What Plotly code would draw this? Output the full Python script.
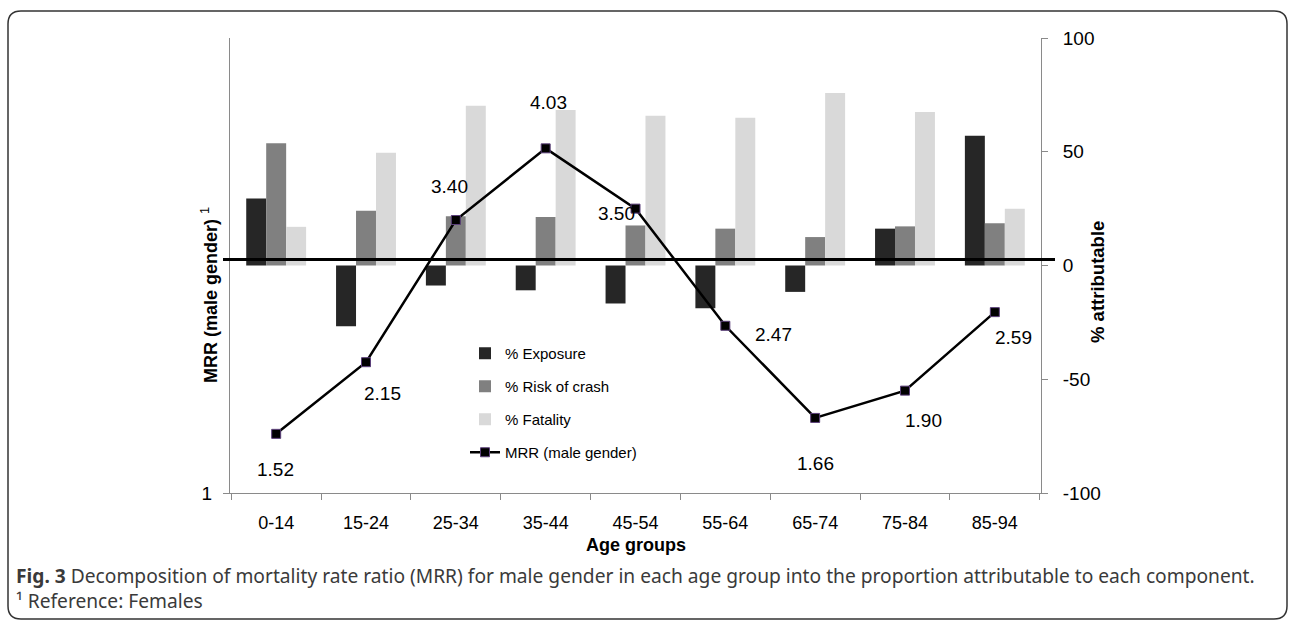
import plotly.graph_objects as go

# ---------------- data ----------------
age_groups = ["0-14", "15-24", "25-34", "35-44", "45-54", "55-64", "65-74", "75-84", "85-94"]
exposure = [29.5, -26.7, -8.8, -10.9, -16.7, -18.8, -11.6, 16.2, 57.0]
risk_of_crash = [53.7, 24.1, 21.6, 21.3, 17.6, 16.2, 12.5, 17.2, 18.6]
fatality = [17.0, 49.6, 70.2, 68.4, 65.8, 65.0, 75.8, 67.5, 25.0]
mrr = [1.52, 2.15, 3.40, 4.03, 3.50, 2.47, 1.66, 1.90, 2.59]
mrr_labels = ["1.52", "2.15", "3.40", "4.03", "3.50", "2.47", "1.66", "1.90", "2.59"]
pct_ticks = [-100, -50, 0, 50, 100]
pct_ticktext = ["-100", "-50", "0", "50", "100"]
mrr_ticks = [1]

# ---------------- styling ----------------
W, H = 1292, 624
L, R, T, B = 230, 1041, 38, 493
FONT = "Liberation Sans, Arial, Helvetica, sans-serif"
AX = "#8a8a8a"

def px(x):
    return (x - L) / (R - L)

def py(y):
    return (B - y) / (B - T)

# label offsets (xshift, yshift) in px, relative to each marker
label_shift = [(-1, -36), (16, -31), (-6, 34), (3, 46), (-19, -5),
               (48, -9), (0, -46), (19, -30), (19, -25)]

fig = go.Figure()

bar_colors = ["#262626", "#808080", "#d9d9d9"]
for name, vals, col in [("% Exposure", exposure, bar_colors[0]),
                        ("% Risk of crash", risk_of_crash, bar_colors[1]),
                        ("% Fatality", fatality, bar_colors[2])]:
    fig.add_trace(go.Bar(x=age_groups, y=vals, name=name, marker_color=col,
                         marker_line_width=0, yaxis="y", legendgroup=name))

fig.add_trace(go.Scatter(
    x=age_groups, y=mrr, name="MRR (male gender)", yaxis="y2",
    mode="lines+markers", legendgroup="mrr",
    line=dict(color="black", width=2.5),
    marker=dict(symbol="square", size=9, color="black",
                line=dict(color="#5b3f7a", width=1)),
))

# MRR value labels
for g, v, lab, (dx, dy) in zip(age_groups, mrr, mrr_labels, label_shift):
    fig.add_annotation(x=g, y=v, xref="x", yref="y2", text=lab, showarrow=False,
                       xanchor="center", yanchor="middle",
                       xshift=dx, yshift=dy, font=dict(family=FONT, size=19, color="black"))

# thick horizontal line across the chart
fig.add_shape(type="line", xref="paper", yref="y", x0=px(223), x1=px(1055), y0=2.6, y1=2.6,
              line=dict(color="black", width=3), layer="above")

# axis titles
fig.add_annotation(xref="paper", yref="paper", x=px(209), y=py(295),
                   xanchor="center", yanchor="middle",
                   text="<b>MRR (male gender) </b><sup>1</sup>", textangle=-90, showarrow=False,
                   font=dict(family=FONT, size=18, color="black"))
fig.add_annotation(xref="paper", yref="paper", x=px(1097), y=py(282),
                   xanchor="center", yanchor="middle",
                   text="<b>% attributable</b>", textangle=-90, showarrow=False,
                   font=dict(family=FONT, size=18.5, color="black"))
fig.add_annotation(xref="paper", yref="paper", x=px(636), y=py(545),
                   xanchor="center", yanchor="middle",
                   text="<b>Age groups</b>", showarrow=False,
                   font=dict(family=FONT, size=18, color="black"))

# caption (two lines in one text)
CAP = "Noto Sans, Open Sans, sans-serif"
fig.add_annotation(xref="paper", yref="paper", x=px(14), y=py(588), xanchor="left", yanchor="middle",
                   align="left",
                   text="<b>Fig. 3</b> Decomposition of mortality rate ratio (MRR) for male gender in each age group into the proportion attributable to each component."
                        "<br>¹ Reference: Females",
                   showarrow=False, font=dict(family=CAP, size=19.2, color="#3a3a3a"))

# rounded outer frame
x0, y0, x1, y1, r = px(8), py(11), px(1287), py(619), 13
rx, ry = r / (R - L), r / (B - T)
path = (f"M{x0+rx},{y0} L{x1-rx},{y0} Q{x1},{y0} {x1},{y0-ry} "
        f"L{x1},{y1+ry} Q{x1},{y1} {x1-rx},{y1} L{x0+rx},{y1} Q{x0},{y1} {x0},{y1+ry} "
        f"L{x0},{y0-ry} Q{x0},{y0} {x0+rx},{y0} Z")
fig.add_shape(type="path", xref="paper", yref="paper", path=path,
              line=dict(color="#333333", width=1.5), layer="below")

fig.update_layout(
    width=W, height=H,
    margin=dict(l=L, r=W - R, t=T, b=H - B, pad=0),
    paper_bgcolor="white", plot_bgcolor="white",
    font=dict(family=FONT, size=19, color="black"),
    barmode="group", bargap=1/3, bargroupgap=0,
    showlegend=True,
    legend=dict(x=px(465), y=py(337), xanchor="left", yanchor="top",
                traceorder="grouped", tracegroupgap=10.5,
                font=dict(family=FONT, size=15, color="black"),
                bgcolor="rgba(0,0,0,0)"),
    xaxis=dict(type="category", showgrid=False, zeroline=False,
               showline=True, linecolor=AX, linewidth=1,
               ticks="outside", tickson="boundaries", ticklen=6, tickcolor=AX,
               tickfont=dict(family=FONT, size=18), ticklabelstandoff=13),
    yaxis=dict(side="right", range=[-100, 100], tickvals=pct_ticks, ticktext=pct_ticktext,
               showgrid=False, zeroline=False, showline=True, linecolor=AX, linewidth=1,
               ticks="outside", ticklen=6, tickcolor=AX, ticklabelstandoff=11,
               tickfont=dict(family=FONT, size=19)),
    yaxis2=dict(side="left", overlaying="y", range=[1, 5], tickvals=mrr_ticks,
                showgrid=False, zeroline=False, showline=True, linecolor=AX, linewidth=1,
                ticks="outside", ticklen=6, tickcolor=AX, ticklabelstandoff=7,
                tickfont=dict(family=FONT, size=19)),
)

fig.write_html("out.html", config={"displayModeBar": False},
               post_script="document.body.style.margin='0px';")
